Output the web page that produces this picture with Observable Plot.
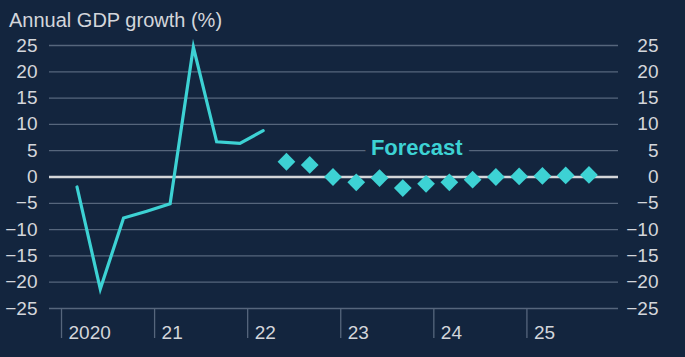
<!DOCTYPE html>
<html>
<head>
<meta charset="utf-8">
<script src="https://cdn.jsdelivr.net/npm/d3@7"></script>
<script src="https://cdn.jsdelivr.net/npm/@observablehq/plot@0.6"></script>
<style>
  html, body { margin: 0; padding: 0; background: #13253e; }
  #wrap { width: 685px; height: 357px; background: #13253e; font-family: "Liberation Sans", Arial, sans-serif; overflow: hidden; }
  #title { height: 35px; box-sizing: border-box; padding: 10px 0 0 9px; color: #d3d6db; font-size: 20px; line-height: 20px; }
  svg { display: block; }
</style>
</head>
<body>
<div id="wrap">
  <div id="title">Annual GDP growth (%)</div>
  <div id="chart"></div>
</div>
<script>
// Actual annual GDP growth, quarterly
const actualYears    = [2020, 2020, 2020, 2020, 2021, 2021, 2021, 2021, 2022];
const actualQuarters = [1, 2, 3, 4, 1, 2, 3, 4, 1];
const actualValues   = [-1.9, -21.3, -7.8, -6.5, -5.1, 24.7, 6.7, 6.4, 8.8];

// Forecast annual GDP growth, quarterly
const forecastYears    = [2022, 2022, 2022, 2023, 2023, 2023, 2023, 2024, 2024, 2024, 2024, 2025, 2025, 2025];
const forecastQuarters = [2, 3, 4, 1, 2, 3, 4, 1, 2, 3, 4, 1, 2, 3];
const forecastValues   = [2.9, 2.3, 0.0, -1.0, -0.2, -2.1, -1.3, -1.0, -0.5, 0.0, 0.1, 0.2, 0.3, 0.4];

// Axis ticks
const yearTicks = [2020, 2021, 2022, 2023, 2024, 2025];
const yearTickLabels = ["2020", "21", "22", "23", "24", "25"];
const yTicks = [-25, -20, -15, -10, -5, 0, 5, 10, 15, 20, 25];

const forecastLabel = [{text: "Forecast", year: 2023, quarter: 3, value: 5}];

const toT = (y, q) => y + (q - 1) / 4 + 1 / 6;
const actual = actualValues.map((v, i) => ({t: toT(actualYears[i], actualQuarters[i]), v}));
const forecast = forecastValues.map((v, i) => ({t: toT(forecastYears[i], forecastQuarters[i]), v}));

const bg = "#13253e";
const grid = "#56667c";
const textCol = "#d3d6db";
const cyan = "#3dd2d4";

const chart = Plot.plot({
  width: 685,
  height: 322,
  marginLeft: 49,
  marginRight: 67,
  marginTop: 10,
  marginBottom: 49,
  style: {background: bg, fontFamily: "'Liberation Sans', Arial, sans-serif", fontSize: "19px", color: textCol},
  x: {type: "linear", domain: [2019.871, 2025.984]},
  y: {domain: [-25, 25]},
  marks: [
    Plot.gridY(yTicks.filter(d => d !== 0), {stroke: grid, strokeOpacity: 1, strokeWidth: 1.3}),
    Plot.axisY(yTicks, {anchor: "left", tickSize: 0, tickPadding: 12, fill: textCol, label: null, fontSize: 19}),
    Plot.axisY(yTicks, {anchor: "right", tickSize: 0, tickPadding: 40, textAnchor: "end", fill: textCol, label: null, fontSize: 19}),
    Plot.axisX(yearTicks, {anchor: "bottom", tickSize: 30, stroke: grid, strokeWidth: 1.3, strokeOpacity: 1, label: null, tickFormat: () => ""}),
    Plot.axisX(yearTicks, {anchor: "bottom", tickSize: 0, tickPadding: 17, textAnchor: "start", dx: 7, fill: textCol, label: null, fontSize: 19, tickFormat: (d) => yearTickLabels[yearTicks.indexOf(d)]}),
    Plot.ruleY([0], {stroke: "#d4d6d9", strokeWidth: 2.4}),
    Plot.text(forecastLabel, {x: d => toT(d.year, d.quarter) + 0.15, y: "value", text: "text", fill: cyan, fontWeight: "bold", fontSize: 22, stroke: bg, strokeWidth: 14, dy: -3}),
    Plot.line(actual, {x: "t", y: "v", stroke: cyan, strokeWidth: 3.2, strokeLinejoin: "miter", strokeMiterlimit: 10}),
    Plot.dot(forecast, {x: "t", y: "v", symbol: "diamond2", r: 8, fill: cyan, stroke: "none"})
  ]
});
document.getElementById("chart").appendChild(chart);
</script>
</body>
</html>
